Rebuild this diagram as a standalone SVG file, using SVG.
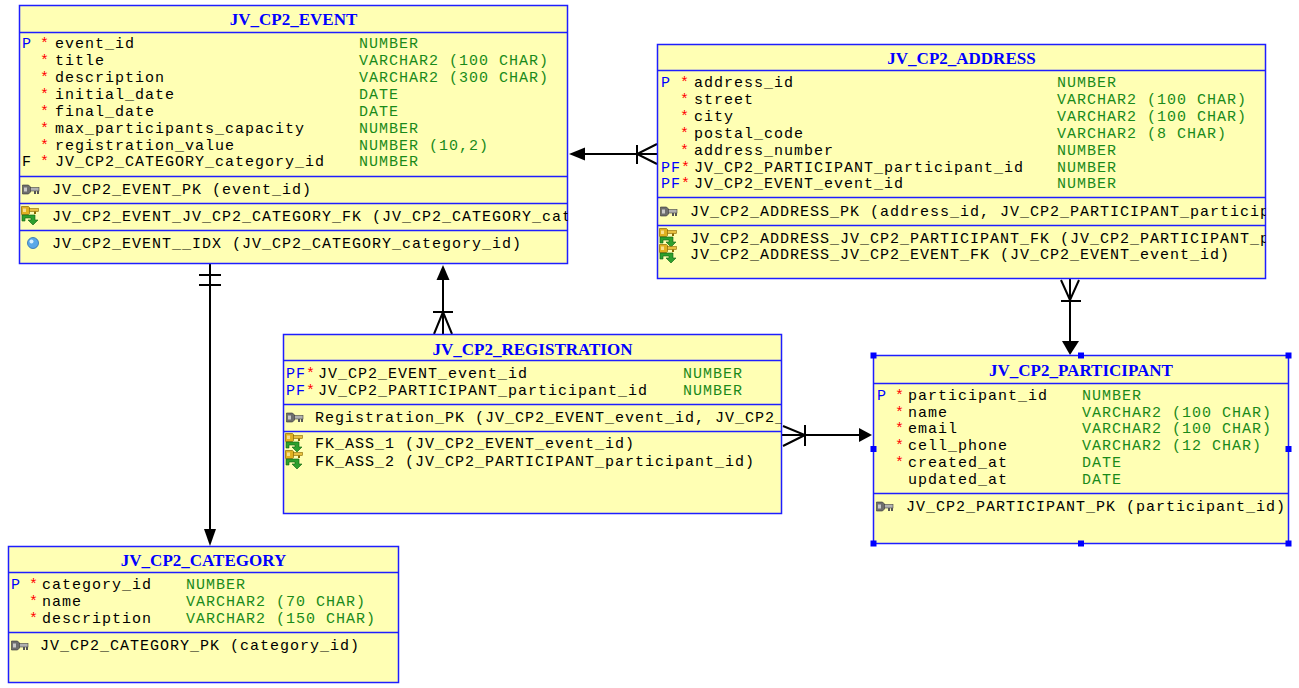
<svg xmlns="http://www.w3.org/2000/svg" xmlns:xlink="http://www.w3.org/1999/xlink" width="1299" height="688" viewBox="0 0 1299 688">
<style>
.box{fill:#FFFFB4;stroke:#1E1EFF;stroke-width:1.5}
.sep{stroke:#1E1EFF;stroke-width:1.5}
.title{font-family:"Liberation Serif",serif;font-weight:bold;font-size:17px;fill:#0000FF;text-anchor:middle}
.t{font-family:"Liberation Mono",monospace;font-size:15px;letter-spacing:1px;fill:#000}
.ty{fill:#1A8A1A}
.pf{fill:#0000FF}
.st{fill:#FF0000}
.conn{stroke:#000;stroke-width:2;fill:none}
.ah{fill:#000}
.hd{fill:#0000FF}
</style>
<defs>
<g id="pkI">
<path d="M0.5,1 h6 l2,2 v5 l-2,2 h-6 z" fill="#6E6E6E" stroke="#333" stroke-width="0.6"/>
<rect x="2" y="3.5" width="3" height="4" fill="#C8C8C8"/>
<rect x="8.5" y="3.5" width="8.5" height="3.5" fill="#B0B0B0" stroke="#444" stroke-width="0.6"/>
<rect x="12" y="7" width="2" height="3" fill="#555"/>
<rect x="15" y="7" width="2" height="3" fill="#555"/>
</g>
<g id="fkI">
<path d="M0.5,0.5 h7 l1,1 v6 l-1,1 h-7 z" fill="#E0B020" stroke="#8A6A00" stroke-width="0.7"/>
<rect x="2" y="2.5" width="3" height="3.5" fill="#F8E08A"/>
<rect x="8.5" y="2.5" width="9" height="3" fill="#E8C040" stroke="#8A6A00" stroke-width="0.6"/>
<rect x="13" y="5.5" width="2" height="2.5" fill="#8A6A00"/>
<path d="M10,9 h4 v5 h3 l-5,5 l-5,-5 h3 v-2 h-6 v3 h-3 v-6 h9 z" fill="#2EA02E" stroke="#0E600E" stroke-width="0.6"/>
</g>
<clipPath id="cE"><rect x="19" y="5" width="548.5" height="259"/></clipPath>
<clipPath id="cA"><rect x="657" y="44" width="608.5" height="235"/></clipPath>
<clipPath id="cR"><rect x="283" y="334" width="498.5" height="180"/></clipPath>
</defs>
<rect width="1299" height="688" fill="#FFFFFF"/>

<g id="connectors">
<line class="conn" x1="210" y1="264" x2="210" y2="532"/>
<line class="conn" x1="199" y1="275" x2="221" y2="275"/>
<line class="conn" x1="199" y1="285" x2="221" y2="285"/>
<polygon class="ah" points="204,529 216,529 210,546"/>

<line class="conn" x1="443" y1="334" x2="443" y2="278"/>
<polygon class="ah" points="443,265 436.5,280 449.5,280"/>
<line class="conn" x1="433" y1="312" x2="453" y2="312"/>
<polyline class="conn" points="434,334 443,312 452,334"/>

<line class="conn" x1="657" y1="154" x2="583" y2="154"/>
<polygon class="ah" points="569,154 585,147.5 585,160.5"/>
<line class="conn" x1="637" y1="145" x2="637" y2="164"/>
<polyline class="conn" points="657,144 637,154 657,164"/>

<line class="conn" x1="1070" y1="279" x2="1070" y2="343"/>
<polyline class="conn" points="1061,280 1070,300 1079,280"/>
<line class="conn" x1="1061" y1="301" x2="1081" y2="301"/>
<polygon class="ah" points="1070,355 1062,341 1079,341"/>

<line class="conn" x1="782" y1="435" x2="861" y2="435"/>
<polygon class="ah" points="872,435 859,428 859,442"/>
<line class="conn" x1="805" y1="425" x2="805" y2="446"/>
<polyline class="conn" points="783,426 805,435 783,446"/>
</g>

<g id="JV_CP2_EVENT">
<rect class="box" x="19.5" y="5.5" width="548" height="258"/>
<text class="title" x="293.5" y="24.5">JV_CP2_EVENT</text>
<line class="sep" x1="19.5" y1="32.5" x2="567.5" y2="32.5"/>
<line class="sep" x1="19.5" y1="176.5" x2="567.5" y2="176.5"/>
<line class="sep" x1="19.5" y1="203.5" x2="567.5" y2="203.5"/>
<line class="sep" x1="19.5" y1="230.5" x2="567.5" y2="230.5"/>
<g class="t">
<text x="22" y="48" class="pf">P</text><text x="40" y="48" class="st">*</text><text x="55" y="48">event_id</text><text x="359" y="48" class="ty">NUMBER</text>
<text x="40" y="65" class="st">*</text><text x="55" y="65">title</text><text x="359" y="65" class="ty">VARCHAR2 (100 CHAR)</text>
<text x="40" y="82" class="st">*</text><text x="55" y="82">description</text><text x="359" y="82" class="ty">VARCHAR2 (300 CHAR)</text>
<text x="40" y="99" class="st">*</text><text x="55" y="99">initial_date</text><text x="359" y="99" class="ty">DATE</text>
<text x="40" y="116" class="st">*</text><text x="55" y="116">final_date</text><text x="359" y="116" class="ty">DATE</text>
<text x="40" y="133" class="st">*</text><text x="55" y="133">max_participants_capacity</text><text x="359" y="133" class="ty">NUMBER</text>
<text x="40" y="150" class="st">*</text><text x="55" y="150">registration_value</text><text x="359" y="150" class="ty">NUMBER (10,2)</text>
<text x="22" y="166">F</text><text x="40" y="166" class="st">*</text><text x="55" y="166">JV_CP2_CATEGORY_category_id</text><text x="359" y="166" class="ty">NUMBER</text>
<g clip-path="url(#cE)">
<text x="52" y="194">JV_CP2_EVENT_PK (event_id)</text>
<text x="52" y="221">JV_CP2_EVENT_JV_CP2_CATEGORY_FK (JV_CP2_CATEGORY_cat</text>
<text x="52" y="248">JV_CP2_EVENT__IDX (JV_CP2_CATEGORY_category_id)</text>
</g>
</g>
<use xlink:href="#pkI" x="22" y="184"/>
<use xlink:href="#fkI" x="21" y="206"/>
<circle cx="33" cy="243" r="5.5" fill="#5AA8E8" stroke="#2A6AB0" stroke-width="0.8"/>
<circle cx="31.5" cy="241.5" r="2" fill="#D8F0FF"/>
</g>

<g id="JV_CP2_ADDRESS">
<rect class="box" x="657.5" y="44.5" width="608" height="234"/>
<text class="title" x="961.5" y="63.5">JV_CP2_ADDRESS</text>
<line class="sep" x1="657.5" y1="70.5" x2="1265.5" y2="70.5"/>
<line class="sep" x1="657.5" y1="197.5" x2="1265.5" y2="197.5"/>
<line class="sep" x1="657.5" y1="225.5" x2="1265.5" y2="225.5"/>
<g class="t">
<text x="661" y="87" class="pf">P</text><text x="680" y="87" class="st">*</text><text x="694" y="87">address_id</text><text x="1057" y="87" class="ty">NUMBER</text>
<text x="680" y="104" class="st">*</text><text x="694" y="104">street</text><text x="1057" y="104" class="ty">VARCHAR2 (100 CHAR)</text>
<text x="680" y="121" class="st">*</text><text x="694" y="121">city</text><text x="1057" y="121" class="ty">VARCHAR2 (100 CHAR)</text>
<text x="680" y="138" class="st">*</text><text x="694" y="138">postal_code</text><text x="1057" y="138" class="ty">VARCHAR2 (8 CHAR)</text>
<text x="680" y="155" class="st">*</text><text x="694" y="155">address_number</text><text x="1057" y="155" class="ty">NUMBER</text>
<text x="661" y="172" class="pf">PF</text><text x="681" y="172" class="st">*</text><text x="694" y="172">JV_CP2_PARTICIPANT_participant_id</text><text x="1057" y="172" class="ty">NUMBER</text>
<text x="661" y="188" class="pf">PF</text><text x="681" y="188" class="st">*</text><text x="694" y="188">JV_CP2_EVENT_event_id</text><text x="1057" y="188" class="ty">NUMBER</text>
<g clip-path="url(#cA)">
<text x="690" y="216">JV_CP2_ADDRESS_PK (address_id, JV_CP2_PARTICIPANT_particip</text>
<text x="690" y="243">JV_CP2_ADDRESS_JV_CP2_PARTICIPANT_FK (JV_CP2_PARTICIPANT_p</text>
<text x="690" y="259">JV_CP2_ADDRESS_JV_CP2_EVENT_FK (JV_CP2_EVENT_event_id)</text>
</g>
</g>
<use xlink:href="#pkI" x="660" y="206"/>
<use xlink:href="#fkI" x="659" y="228"/>
<use xlink:href="#fkI" x="659" y="244"/>
</g>

<g id="JV_CP2_REGISTRATION">
<rect class="box" x="283.5" y="334.5" width="498" height="179"/>
<text class="title" x="532.5" y="354.5">JV_CP2_REGISTRATION</text>
<line class="sep" x1="283.5" y1="360.5" x2="781.5" y2="360.5"/>
<line class="sep" x1="283.5" y1="404.5" x2="781.5" y2="404.5"/>
<line class="sep" x1="283.5" y1="431.5" x2="781.5" y2="431.5"/>
<g class="t">
<text x="286" y="378" class="pf">PF</text><text x="306" y="378" class="st">*</text><text x="318" y="378">JV_CP2_EVENT_event_id</text><text x="683" y="378" class="ty">NUMBER</text>
<text x="286" y="395" class="pf">PF</text><text x="306" y="395" class="st">*</text><text x="318" y="395">JV_CP2_PARTICIPANT_participant_id</text><text x="683" y="395" class="ty">NUMBER</text>
<g clip-path="url(#cR)">
<text x="315" y="422">Registration_PK (JV_CP2_EVENT_event_id, JV_CP2_</text>
<text x="315" y="448">FK_ASS_1 (JV_CP2_EVENT_event_id)</text>
<text x="315" y="466">FK_ASS_2 (JV_CP2_PARTICIPANT_participant_id)</text>
</g>
</g>
<use xlink:href="#pkI" x="286" y="412"/>
<use xlink:href="#fkI" x="285" y="433"/>
<use xlink:href="#fkI" x="285" y="450"/>
</g>

<g id="JV_CP2_PARTICIPANT">
<rect class="box" x="873.5" y="355.5" width="415" height="188"/>
<text class="title" x="1081" y="375.5">JV_CP2_PARTICIPANT</text>
<line class="sep" x1="873.5" y1="383.5" x2="1288.5" y2="383.5"/>
<line class="sep" x1="873.5" y1="493.5" x2="1288.5" y2="493.5"/>
<g class="t">
<text x="877" y="400" class="pf">P</text><text x="895" y="400" class="st">*</text><text x="908" y="400">participant_id</text><text x="1082" y="400" class="ty">NUMBER</text>
<text x="895" y="417" class="st">*</text><text x="908" y="417">name</text><text x="1082" y="417" class="ty">VARCHAR2 (100 CHAR)</text>
<text x="895" y="433" class="st">*</text><text x="908" y="433">email</text><text x="1082" y="433" class="ty">VARCHAR2 (100 CHAR)</text>
<text x="895" y="450" class="st">*</text><text x="908" y="450">cell_phone</text><text x="1082" y="450" class="ty">VARCHAR2 (12 CHAR)</text>
<text x="895" y="467" class="st">*</text><text x="908" y="467">created_at</text><text x="1082" y="467" class="ty">DATE</text>
<text x="908" y="484">updated_at</text><text x="1082" y="484" class="ty">DATE</text>
<text x="906" y="511">JV_CP2_PARTICIPANT_PK (participant_id)</text>
</g>
<use xlink:href="#pkI" x="876" y="501"/>
<rect class="hd" x="870.5" y="352.5" width="6" height="6"/>
<rect class="hd" x="1078" y="352.5" width="6" height="6"/>
<rect class="hd" x="1285.5" y="352.5" width="6" height="6"/>
<rect class="hd" x="870.5" y="446" width="6" height="6"/>
<rect class="hd" x="1285.5" y="446" width="6" height="6"/>
<rect class="hd" x="870.5" y="540.5" width="6" height="6"/>
<rect class="hd" x="1078" y="540.5" width="6" height="6"/>
<rect class="hd" x="1285.5" y="540.5" width="6" height="6"/>
</g>

<g id="JV_CP2_CATEGORY">
<rect class="box" x="8.5" y="546.5" width="390" height="136"/>
<text class="title" x="203.5" y="565.5">JV_CP2_CATEGORY</text>
<line class="sep" x1="8.5" y1="572.5" x2="398.5" y2="572.5"/>
<line class="sep" x1="8.5" y1="632.5" x2="398.5" y2="632.5"/>
<g class="t">
<text x="11" y="589" class="pf">P</text><text x="29" y="589" class="st">*</text><text x="42" y="589">category_id</text><text x="186" y="589" class="ty">NUMBER</text>
<text x="29" y="606" class="st">*</text><text x="42" y="606">name</text><text x="186" y="606" class="ty">VARCHAR2 (70 CHAR)</text>
<text x="29" y="623" class="st">*</text><text x="42" y="623">description</text><text x="186" y="623" class="ty">VARCHAR2 (150 CHAR)</text>
<text x="40" y="650">JV_CP2_CATEGORY_PK (category_id)</text>
</g>
<use xlink:href="#pkI" x="11" y="640"/>
</g>
</svg>
